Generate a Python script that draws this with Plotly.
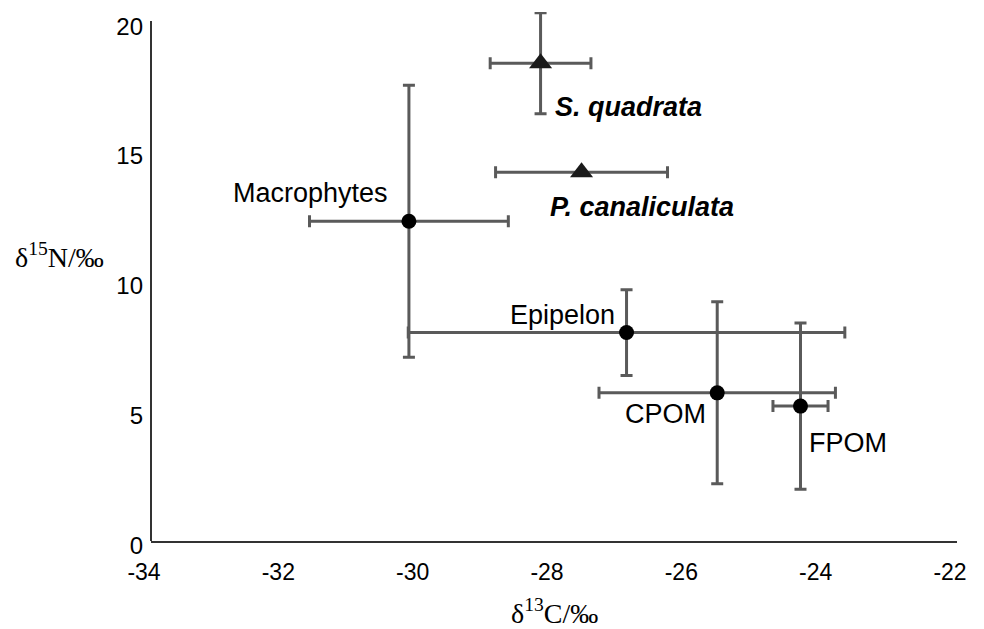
import plotly.graph_objects as go

# Food sources (circles)
src_names = ["Macrophytes", "Epipelon", "CPOM", "FPOM"]
src_c13 = [-30.16, -26.92, -25.57, -24.33]
src_c13_sd = [1.48, 3.25, 1.76, 0.41]
src_n15 = [12.30, 8.02, 5.70, 5.19]
src_n15_sd = [5.23, 1.65, 3.50, 3.20]

# Consumers (triangles)
con_names = ["S. quadrata", "P. canaliculata"]
con_c13 = [-28.20, -27.59]
con_c13_sd = [0.75, 1.28]
con_n15 = [18.38, 14.19]
con_n15_sd = [1.94, None]

# Label positions (data coords) and anchors
src_lab_x = [-30.44, -27.06, -25.71, -24.23]
src_lab_y = [13.37, 8.68, 4.87, 3.76]
src_lab_anchor = ["right", "right", "right", "left"]
con_lab_x = [-28.01, -28.09]
con_lab_y = [16.68, 12.83]

x_ticks = [-34, -32, -30, -28, -26, -24, -22]
x_tick_text = ["-34", "-32", "-30", "-28", "-26", "-24", "-22"]
y_ticks = [0, 5, 10, 15, 20]
y_axis_top = 20

ERR = "#5a5a5a"
SANS = "Liberation Sans, Arial, sans-serif"
SERIF = "Liberation Serif, Times New Roman, serif"

fig = go.Figure()
fig.add_trace(go.Scatter(
    x=src_c13, y=src_n15, mode="markers", name="sources",
    marker=dict(symbol="circle", size=15, color="black"),
    error_x=dict(type="data", array=src_c13_sd, color=ERR, thickness=3, width=6),
    error_y=dict(type="data", array=src_n15_sd, color=ERR, thickness=3, width=6),
    cliponaxis=False, showlegend=False,
))
for i, nm in enumerate(con_names):
    ey = None
    if con_n15_sd[i] is not None:
        ey = dict(type="data", array=[con_n15_sd[i]], color=ERR, thickness=3, width=6)
    fig.add_trace(go.Scatter(
        x=[con_c13[i]], y=[con_n15[i]], mode="markers", name=nm,
        marker=dict(symbol="triangle-up", size=20, color="#1a1a1a"),
        error_x=dict(type="data", array=[con_c13_sd[i]], color=ERR, thickness=3, width=6),
        error_y=ey,
        cliponaxis=False, showlegend=False,
    ))

annotations = []
for nm, lx, ly, anc in zip(src_names, src_lab_x, src_lab_y, src_lab_anchor):
    annotations.append(dict(x=lx, y=ly, xref="x", yref="y", text=nm, showarrow=False,
                            xanchor=anc, yanchor="middle",
                            font=dict(family=SANS, size=27, color="black")))
for nm, lx, ly in zip(con_names, con_lab_x, con_lab_y):
    annotations.append(dict(x=lx, y=ly, xref="x", yref="y", text="<b><i>%s</i></b>" % nm,
                            showarrow=False, xanchor="left", yanchor="middle",
                            font=dict(family=SANS, size=27, color="black")))
# axis titles
annotations.append(dict(x=0.5, y=-0.1342, xref="paper", yref="paper",
                        text="δ<sup>13</sup>C/‰", showarrow=False,
                        xanchor="center", yanchor="middle",
                        font=dict(family=SERIF, size=28, color="black")))
annotations.append(dict(x=-0.1141, y=0.5406, xref="paper", yref="paper",
                        text="δ<sup>15</sup>N/‰", showarrow=False,
                        xanchor="center", yanchor="middle",
                        font=dict(family=SERIF, size=28, color="black")))

fig.update_layout(
    width=984, height=629,
    margin=dict(l=143, r=35, t=4, b=96),
    paper_bgcolor="white", plot_bgcolor="white",
    annotations=annotations,
    shapes=[dict(type="line", xref="paper", yref="y", x0=0, x1=0, y0=0, y1=y_axis_top,
                 line=dict(color="#333", width=2), layer="above")],
    xaxis=dict(range=[-34, -22], tickvals=x_ticks, ticktext=x_tick_text,
               showgrid=False, zeroline=False, showline=True, linecolor="#333", linewidth=2,
               ticks="", ticklabelstandoff=9, ticklabelshift=-7,
               ticklabeloverflow="allow",
               tickfont=dict(family=SANS, size=23, color="black")),
    yaxis=dict(range=[0, 20.35], tickvals=y_ticks,
               showgrid=False, zeroline=False, showline=False,
               ticks="", ticklabelstandoff=7, ticklabelshift=5,
               ticklabeloverflow="allow",
               tickfont=dict(family=SANS, size=24, color="black")),
)

fig.write_html("out.html")
